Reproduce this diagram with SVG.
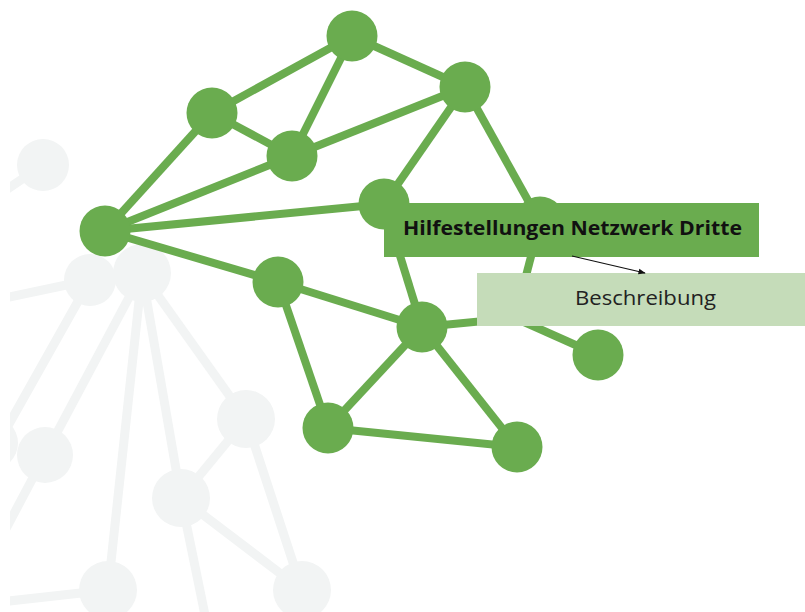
<svg xmlns="http://www.w3.org/2000/svg" width="805" height="612" viewBox="0 0 805 612">
<style>
.bgl{stroke:#f2f4f4;stroke-width:9;fill:none}
.bgn{fill:#f2f4f4}
.e{stroke:#6aac4f;stroke-width:8;fill:none}
.n{fill:#6aac4f}
.t1{font-family:"Open Sans","Liberation Sans",sans-serif;font-weight:bold;font-size:19.5px;fill:#111}
.t2{font-family:"Open Sans","Liberation Sans",sans-serif;font-size:20.5px;fill:#222}
</style>
<defs>
<clipPath id="clip"><rect x="10" y="0" width="795" height="612"/></clipPath>
<marker id="ah" viewBox="0 0 10 10" refX="9" refY="5" markerWidth="6" markerHeight="6" orient="auto"><path d="M0,1 L10,5 L0,9 z" fill="#111"/></marker>
</defs>
<rect width="805" height="612" fill="#fff"/>
<g id="background" clip-path="url(#clip)">
<line class="bgl" x1="43" y1="165" x2="0" y2="194"/>
<line class="bgl" x1="90" y1="280" x2="0" y2="299"/>
<line class="bgl" x1="90" y1="280" x2="0" y2="440"/>
<line class="bgl" x1="142" y1="273" x2="45" y2="455"/>
<line class="bgl" x1="142" y1="273" x2="108" y2="590"/>
<line class="bgl" x1="142" y1="273" x2="181" y2="498"/>
<line class="bgl" x1="142" y1="273" x2="246" y2="419"/>
<line class="bgl" x1="246" y1="419" x2="181" y2="498"/>
<line class="bgl" x1="246" y1="419" x2="302" y2="590"/>
<line class="bgl" x1="181" y1="498" x2="302" y2="590"/>
<line class="bgl" x1="181" y1="498" x2="206" y2="620"/>
<line class="bgl" x1="108" y1="590" x2="0" y2="602"/>
<line class="bgl" x1="45" y1="455" x2="0" y2="540"/>
<circle class="bgn" cx="43" cy="165" r="26"/>
<circle class="bgn" cx="90" cy="280" r="26"/>
<circle class="bgn" cx="142" cy="273" r="29"/>
<circle class="bgn" cx="246" cy="419" r="29"/>
<circle class="bgn" cx="181" cy="498" r="29"/>
<circle class="bgn" cx="45" cy="455" r="28"/>
<circle class="bgn" cx="-9" cy="443" r="27"/>
<circle class="bgn" cx="108" cy="590" r="29"/>
<circle class="bgn" cx="302" cy="590" r="29"/>
</g>
<g id="connectors">
<line class="e" x1="105" y1="231" x2="212" y2="113"/>
<line class="e" x1="105" y1="231" x2="292" y2="156"/>
<line class="e" x1="105" y1="231" x2="384" y2="204"/>
<line class="e" x1="105" y1="231" x2="278" y2="282"/>
<line class="e" x1="212" y1="113" x2="352" y2="36"/>
<line class="e" x1="212" y1="113" x2="292" y2="156"/>
<line class="e" x1="292" y1="156" x2="352" y2="36"/>
<line class="e" x1="292" y1="156" x2="465" y2="87"/>
<line class="e" x1="352" y1="36" x2="465" y2="87"/>
<line class="e" x1="465" y1="87" x2="384" y2="204"/>
<line class="e" x1="465" y1="87" x2="540" y2="222"/>
<line class="e" x1="384" y1="204" x2="422" y2="327"/>
<line class="e" x1="540" y1="222" x2="515" y2="318"/>
<line class="e" x1="422" y1="327" x2="515" y2="318"/>
<line class="e" x1="515" y1="318" x2="598" y2="355"/>
<line class="e" x1="278" y1="282" x2="422" y2="327"/>
<line class="e" x1="278" y1="282" x2="328" y2="428"/>
<line class="e" x1="422" y1="327" x2="328" y2="428"/>
<line class="e" x1="422" y1="327" x2="517" y2="447"/>
<line class="e" x1="328" y1="428" x2="517" y2="447"/>
</g>
<g id="n1"><circle class="n" cx="352" cy="36" r="25.5"/></g>
<g id="n2"><circle class="n" cx="465" cy="87" r="25.5"/></g>
<g id="n3"><circle class="n" cx="212" cy="113" r="25.5"/></g>
<g id="n4"><circle class="n" cx="292" cy="156" r="25.5"/></g>
<g id="n5"><circle class="n" cx="384" cy="204" r="25.5"/></g>
<g id="n6"><circle class="n" cx="105" cy="231" r="25.5"/></g>
<g id="n7"><circle class="n" cx="278" cy="282" r="25.5"/></g>
<g id="n8"><circle class="n" cx="540" cy="222" r="25.5"/></g>
<g id="n9"><circle class="n" cx="422" cy="327" r="25.5"/></g>
<g id="n10"><circle class="n" cx="598" cy="355" r="25.5"/></g>
<g id="n11"><circle class="n" cx="328" cy="428" r="25.5"/></g>
<g id="n12"><circle class="n" cx="517" cy="447" r="25.5"/></g>
<g id="title">
<rect x="384" y="203" width="375" height="54" fill="#6aac4f"/>
<text class="t1" x="403" y="235" textLength="339" lengthAdjust="spacingAndGlyphs">Hilfestellungen Netzwerk Dritte</text>
</g>
<g id="description">
<rect x="477" y="273" width="328" height="53" fill="#c5dcb9"/>
<text class="t2" x="575" y="305" textLength="141" lengthAdjust="spacingAndGlyphs">Beschreibung</text>
</g>
<g id="arrow">
<line x1="572" y1="256" x2="645" y2="273" stroke="#111" stroke-width="1.2" marker-end="url(#ah)"/>
</g>
</svg>
